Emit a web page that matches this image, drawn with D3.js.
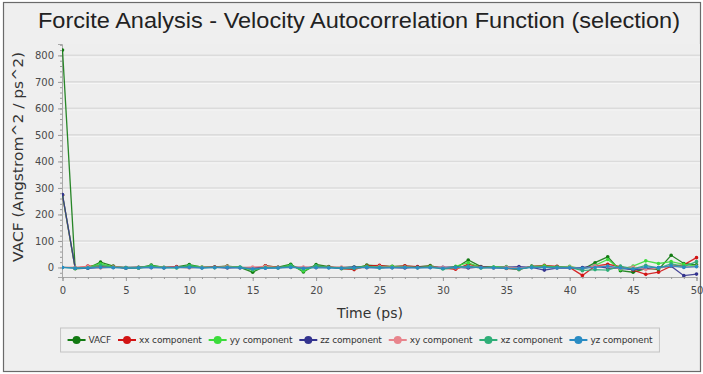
<!DOCTYPE html>
<html>
<head>
<meta charset="utf-8">
<script src="https://cdn.jsdelivr.net/npm/d3@7"></script>
<style>
  html, body { margin: 0; padding: 0; background: #ffffff; }
  svg { display: block; }
</style>
</head>
<body>
<svg id="chart" width="703" height="374"></svg>
<script>
// ---------- DATA ----------
const titleText = "Forcite Analysis - Velocity Autocorrelation Function (selection)";
const xTitle = "Time (ps)";
const yTitle = "VACF (Angstrom^2 / ps^2)";
const time = d3.range(0, 51);
const xTicks = [0, 5, 10, 15, 20, 25, 30, 35, 40, 45, 50];
const yTicks = [0, 100, 200, 300, 400, 500, 600, 700, 800];
const seriesNames = ["VACF", "xx component", "yy component", "zz component", "xy component", "xz component", "yz component"];
const seriesColors = ["#127a12", "#d21414", "#3cdc3c", "#34348f", "#e8858d", "#2fae78", "#2a8cc4"];

const vacf = [820, -5, -2, 20, 5, -3, -2, 9, 0, 2, 11, 1, 2, 5, 0, -18, 6, 1, 12, -17, 11, 3, -5, -4, 9, 6, 4, 5, 2, 7, -4, -2, 28, 3, 1, 0, -8, 5, 4, 3, 2, -8, 18, 40, -12, -18, -4, -8, 46, 15, 10];
const xx   = [272, -3, 5, 6, 3, -2, 1, 4, -1, 3, 3, 0, 2, 4, -1, -6, 6, 1, 3, -4, 5, 2, -3, -8, 6, 8, 2, 6, 3, 4, -2, -7, 12, 2, 0, -4, -6, 3, 8, 4, 0, -30, 5, 12, 3, -10, -26, -18, 5, 10, 37];
const yy   = [273, -4, 0, 14, 2, -1, -3, 6, 1, -2, 7, 2, -1, 3, 1, -10, 2, 0, 8, -13, 6, 1, -1, 2, 4, -2, 3, 1, 0, 3, -3, 4, 18, -1, 2, 3, -5, 2, 6, 1, 4, -5, 8, 30, -8, 5, 25, 15, 22, 12, 5];
const zz   = [275, -2, -3, 0, 0, 0, 0, -1, 0, 1, 1, -1, 1, -2, 0, -2, -2, 0, 1, 0, 0, 0, -1, 2, -1, 0, -1, -2, 1, 0, 1, 1, -2, 2, -1, 1, 3, 0, -10, -2, -2, 0, 5, -2, -3, -8, -5, 0, 5, -31, -25];
const xy   = [0, 1, 3, -2, 2, 0, -1, 2, 0, 1, -2, 1, 0, 3, -1, 2, 4, -1, 0, 2, -1, 0, 2, -3, 1, 4, 0, 2, -1, 0, 1, -2, 3, 0, -2, 1, -3, 2, 0, -1, 2, -5, 6, 3, -4, 2, -8, -3, 6, 2, 4];
const xz   = [0, -2, -1, 8, 1, 0, 1, 5, -1, 0, 6, -1, 0, 1, 2, -8, 0, -2, 6, -6, 6, 0, -2, -4, 3, 2, 0, 1, -1, 2, -6, 0, 5, -2, 1, -3, -7, 3, 1, 2, 0, -12, -8, -10, 5, -5, 8, -3, 14, 3, 22];
const yz   = [0, -3, -2, 0, -1, -3, -2, 0, -2, -1, 0, -2, -1, 0, -2, -5, -3, -2, 0, -3, -1, -2, -3, -1, 0, -2, -1, 0, -2, -1, -3, 0, 2, -1, -2, -3, -4, -1, 0, -2, -1, -3, 0, 5, -2, -6, 2, -1, 6, 0, 3];
const seriesValues = [vacf, xx, yy, zz, xy, xz, yz];

// ---------- LAYOUT ----------
const W = 703, H = 374;
const plot = { left: 62, right: 700, top: 44, bottom: 277 };
const svg = d3.select("#chart");

// outer panel
svg.append("rect").attr("x", 3.5).attr("y", 2.5).attr("width", 697).attr("height", 369)
  .attr("fill", "#efefef").attr("stroke", "#6a6a6a").attr("stroke-width", 1.2);

const x = d3.scaleLinear().domain([0, 50]).range([62.5, 696.5]);
const y = d3.scaleLinear().domain([-36, 843]).range([plot.bottom, plot.top]);

// plot background
svg.append("rect").attr("x", plot.left).attr("y", plot.top)
  .attr("width", plot.right - plot.left).attr("height", plot.bottom - plot.top)
  .attr("fill", "#eeeeee");

// gridlines
svg.append("g").selectAll("line").data(yTicks).join("line")
  .attr("x1", plot.left).attr("x2", plot.right)
  .attr("y1", d => y(d)).attr("y2", d => y(d))
  .attr("stroke", "#dbdbdb").attr("stroke-width", 1.6);
svg.append("g").selectAll("line").data(yTicks).join("line")
  .attr("x1", plot.left).attr("x2", plot.right)
  .attr("y1", d => y(d) + 1.5).attr("y2", d => y(d) + 1.5)
  .attr("stroke", "#f6f6f6").attr("stroke-width", 1);

// title
svg.append("text").attr("x", 359).attr("y", 28).attr("text-anchor", "middle")
  .attr("font-family", "Liberation Sans, Arial, sans-serif").attr("font-size", 22)
  .attr("fill", "#222").attr("textLength", 642).attr("lengthAdjust", "spacingAndGlyphs")
  .text(titleText);

// axes
const axisFont = "DejaVu Sans, sans-serif";
svg.append("g").attr("transform", `translate(${plot.left},0)`)
  .call(d3.axisLeft(y).tickValues(yTicks).tickSize(4).tickPadding(4).tickFormat(d3.format("d")));
svg.append("g").attr("transform", `translate(${plot.left},0)`)
  .call(d3.axisLeft(y).tickValues(d3.range(-20, 841, 20)).tickSize(2).tickFormat(""))
  .call(g => g.select(".domain").remove());
svg.append("g").attr("transform", `translate(0,${plot.bottom})`)
  .call(d3.axisBottom(x).tickValues(xTicks).tickSize(4).tickPadding(6).tickFormat(d3.format("d")));
svg.append("g").attr("transform", `translate(0,${plot.bottom})`)
  .call(d3.axisBottom(x).tickValues(time).tickSize(2).tickFormat(""))
  .call(g => g.select(".domain").remove());
svg.selectAll(".tick line").attr("stroke", "#9a9a9a");
svg.selectAll(".domain").attr("stroke", "#a8a8a8");
svg.selectAll(".tick text").attr("font-family", axisFont).attr("font-size", 10).attr("fill", "#4a4a4a");

// axis titles
svg.append("text").attr("x", 370).attr("y", 318).attr("text-anchor", "middle")
  .attr("font-family", "DejaVu Sans, sans-serif").attr("font-size", 14).attr("fill", "#333")
  .text(xTitle);
svg.append("text").attr("transform", "translate(23,157) rotate(-90)").attr("text-anchor", "middle")
  .attr("font-family", "DejaVu Sans, sans-serif").attr("font-size", 14).attr("fill", "#333")
  .attr("textLength", 210).attr("lengthAdjust", "spacingAndGlyphs")
  .text(yTitle);

// clip
svg.append("clipPath").attr("id", "clip").append("rect")
  .attr("x", plot.left).attr("y", plot.top - 2).attr("width", plot.right - plot.left + 1).attr("height", plot.bottom - plot.top + 2);

const line = d3.line().x((d, i) => x(time[i])).y(d => y(d));
const gData = svg.append("g").attr("clip-path", "url(#clip)");
seriesValues.forEach((vals, si) => {
  const g = gData.append("g");
  g.append("path").datum(vals).attr("d", line)
    .attr("fill", "none").attr("stroke", seriesColors[si]).attr("stroke-width", 1.3).attr("stroke-opacity", 0.9);
  g.selectAll("circle").data(vals).join("circle")
    .attr("cx", (d, i) => x(time[i])).attr("cy", d => y(d)).attr("r", 1.8)
    .attr("fill", seriesColors[si]);
});

// legend
const leg = svg.append("g");
const legFont = 9;
const items = [];
seriesNames.forEach((name, i) => {
  const it = leg.append("g");
  it.append("line").attr("x1", 0).attr("x2", 18).attr("y1", 0).attr("y2", 0)
    .attr("stroke", seriesColors[i]).attr("stroke-width", 2);
  it.append("circle").attr("cx", 9).attr("cy", 0).attr("r", 4).attr("fill", seriesColors[i]);
  const t = it.append("text").attr("x", 21).attr("y", 3.2)
    .attr("font-family", "DejaVu Sans, sans-serif").attr("font-size", legFont).attr("fill", "#333")
    .attr("letter-spacing", -0.15)
    .text(name);
  const w = 21 + t.node().getComputedTextLength();
  items.push({ g: it, w });
});
const gap = 7;
const total = d3.sum(items, d => d.w) + gap * (items.length - 1);
const legCx = 360, legY = 340;
let pos = legCx - total / 2;
items.forEach(d => { d.g.attr("transform", `translate(${pos},${legY})`); pos += d.w + gap; });
leg.insert("rect", ":first-child")
  .attr("x", legCx - total / 2 - 7).attr("y", legY - 12).attr("width", total + 14).attr("height", 24)
  .attr("fill", "#f0f0f0").attr("stroke", "#c4c4c4").attr("stroke-width", 1);
</script>
</body>
</html>
